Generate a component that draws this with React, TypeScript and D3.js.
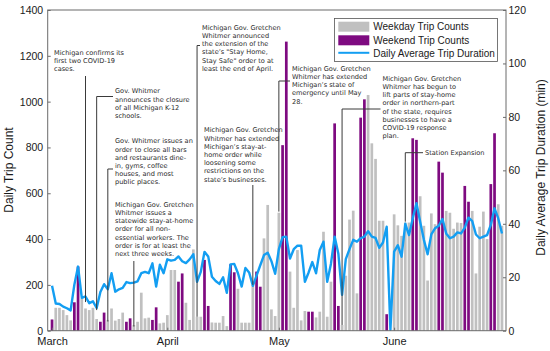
import React, { useEffect, useRef } from 'react';
import * as d3 from 'd3';

// daily trip counts, 1 Mar - 30 Jun 2020
const marchCounts = [49, 100, 100, 90, 68, 45, 124, 280, 141, 97, 90, 100, 51, 39, 79, 47, 97, 44, 51, 79, 39, 54, 25, 39, 166, 54, 57, 47, 102, 32, 35];
const aprilCounts = [68, 265, 265, 214, 250, 122, 47, 355, 61, 61, 309, 108, 36, 35, 35, 64, 20, 290, 255, 183, 35, 35, 35, 200, 258, 192, 403, 549, 93, 64];
const mayCounts = [515, 810, 1262, 258, 100, 352, 45, 86, 83, 83, 58, 83, 432, 61, 214, 905, 108, 25, 240, 485, 524, 163, 930, 1010, 1029, 818, 750, 480, 480, 72, 0];
const juneCounts = [508, 460, 414, 472, 472, 840, 833, 587, 458, 219, 512, 465, 738, 690, 523, 515, 445, 472, 470, 632, 563, 523, 250, 454, 520, 400, 640, 862, 552, 458];

// daily average trip duration (min)
const marchDurations = [16.8, 10.2, 10, 9, 8.4, 7.6, 17.2, 24, 12.3, 12.8, 10.3, 11, 8.5, 14.5, 17.4, 15.5, 21.5, 14.6, 15.5, 16, 18.2, 17.8, 18, 18.5, 21.5, 22, 21.5, 25.2, 16.5, 24.7, 21.5];
const aprilDurations = [26.7, 26.2, 26.5, 27.8, 26, 25.3, 26.7, 28.6, 18.3, 22, 29.5, 27.8, 20.2, 18.6, 17.5, 20, 14.2, 24.8, 25, 21.5, 16.5, 23.5, 21.8, 16.8, 20.6, 24.5, 28.3, 29.2, 26, 21.3];
const mayDurations = [30.5, 35, 35.2, 27, 30.5, 31.8, 31.8, 18.3, 21.8, 25.7, 21.5, 30.2, 33.3, 18.3, 25, 35.2, 28.8, 13.4, 26.8, 30.5, 34, 33.3, 34.6, 35.2, 37.2, 35.2, 34.7, 31, 33, 38.9, 0.3];
const juneDurations = [29.6, 32, 27.7, 40, 35.8, 42, 47.7, 40.8, 34, 28.6, 36, 38.3, 39.3, 41.8, 36.4, 34.6, 35.2, 36.8, 36.4, 38.6, 42.3, 41, 36, 34.6, 35.2, 35.8, 39.6, 45.8, 42, 36.4];

const monthTicks = ['2020-03-01', '2020-04-01', '2020-05-01', '2020-06-01'];
const countTicks = [0, 200, 400, 600, 800, 1000, 1200, 1400];
const durationTicks = [0, 20, 40, 60, 80, 100, 120];
const legendLabels = ['Weekday Trip Counts', 'Weekend Trip Counts', 'Daily Average Trip Duration'];

// event notes: date and the count level where the leader stops
const noteDates = ['2020-03-10', '2020-03-13', '2020-03-16', '2020-03-23', '2020-04-09', '2020-04-24', '2020-05-01', '2020-05-18', '2020-06-04'];
const noteEnds = [125, 90, 40, 18, 61, 200, 520, 25, 476];
const noteTexts = [
  ['Michigan confirms its', 'first two COVID-19', 'cases.'],
  ['Gov. Whitmer', 'announces the closure', 'of all Michigan K-12', 'schools.'],
  ['Gov. Whitmer issues an', 'order to close all bars', 'and restaurants dine-', 'in, gyms, coffee', 'houses, and most', 'public places.'],
  ['Michigan Gov. Gretchen', 'Whitmer issues a', 'statewide stay-at-home', 'order for all non-', 'essential workers. The', 'order is for at least the', 'next three weeks.'],
  ['Michigan Gov. Gretchen', 'Whitmer announced', 'the extension of the', 'state\u2019s "Stay Home,', 'Stay Safe" order to at', 'least the end of April.'],
  ['Michigan Gov. Gretchen', 'Whitmer has extended', 'Michigan\u2019s stay-at-', 'home order while', 'loosening some', 'restrictions on the', 'state\u2019s businesses.'],
  ['Michigan Gov. Gretchen', 'Whitmer has extended', 'Michigan\u2019s state of', 'emergency until May', '28.'],
  ['Michigan Gov. Gretchen', 'Whitmer has begun to', 'lift parts of stay-home', 'order in northern-part', 'of the state, requires', 'businesses to have a', 'COVID-19 response', 'plan.'],
  ['Station Expansion'],
];

// where each note's text block sits (px) and whether the leader has a hook
const noteLayout = [
  { tx: 54, ty: 52.5, top: 76, hook: false },
  { tx: 115, ty: 91, top: 96.5, hook: true },
  { tx: 115, ty: 141, top: 169, hook: true },
  { tx: 115, ty: 204.5, top: 261, hook: false },
  { tx: 202, ty: 27.5, top: 45.5, hook: true },
  { tx: 204, ty: 130, top: 185, hook: false },
  { tx: 292, ty: 68.5, top: 81, hook: true },
  { tx: 382.5, ty: 78.5, top: 109, hook: true },
  { tx: 425, ty: 152.7, top: 152.7, hook: true },
];

const GRAY = '#c0c0c0';
const PURPLE = '#7e0a80';
const BLUE = '#139ef2';
const ARIAL = '"Liberation Sans", Arial, sans-serif';
const NOTE_FONT = '"DejaVu Sans", Verdana, sans-serif';

const App = () => {
  const svgRef = useRef<SVGSVGElement>(null);
  const width = 550;
  const height = 351;

  useEffect(() => {
    const svg = d3.select(svgRef.current);
    svg.selectAll('*').remove();

    const counts = [...marchCounts, ...aprilCounts, ...mayCounts, ...juneCounts];
    const durations = [...marchDurations, ...aprilDurations, ...mayDurations, ...juneDurations];
    const start = Date.UTC(2020, 2, 1);
    const DAY = 864e5;
    const days = counts.map((c, i) => ({
      date: new Date(start + i * DAY),
      count: c,
      dur: durations[i],
    }));
    const parse = (s: string) => new Date(s + 'T00:00:00Z');

    const plot = { left: 47.7, right: 506, top: 10, bottom: 330.7 };

    const x = d3.scaleUtc()
      .domain([new Date(start - 28 * 36e5), new Date(Date.UTC(2020, 6, 1, 2))])
      .range([plot.left, plot.right]);
    const yL = d3.scaleLinear().domain([0, 1400]).range([plot.bottom, plot.top]);
    const yR = d3.scaleLinear().domain([0, 120]).range([plot.bottom, plot.top]);

    const barW = 2.7;

    // bars
    svg.append('g')
      .selectAll('rect')
      .data(days)
      .enter()
      .append('rect')
      .attr('x', d => x(d.date) - barW / 2)
      .attr('width', barW)
      .attr('y', d => yL(d.count))
      .attr('height', d => yL(0) - yL(d.count))
      .attr('fill', d => {
        const wd = d.date.getUTCDay();
        return wd === 0 || wd === 6 ? PURPLE : GRAY;
      });

    // duration line
    const line = d3.line<typeof days[0]>()
      .x(d => x(d.date))
      .y(d => yR(d.dur));
    svg.append('path')
      .datum(days)
      .attr('fill', 'none')
      .attr('stroke', BLUE)
      .attr('stroke-width', 2.4)
      .attr('stroke-linejoin', 'round')
      .attr('d', line);

    // box
    svg.append('rect')
      .attr('x', plot.left)
      .attr('y', plot.top)
      .attr('width', plot.right - plot.left)
      .attr('height', plot.bottom - plot.top)
      .attr('fill', 'none')
      .attr('stroke', '#6b6b6b')
      .attr('stroke-width', 1);

    // axes
    const styleAxis = (g: any, size: string) => {
      g.select('.domain').remove();
      g.selectAll('.tick line').attr('stroke', '#6b6b6b');
      g.selectAll('.tick text')
        .attr('fill', '#1a1a1a')
        .style('font-family', ARIAL)
        .style('font-size', size);
    };

    svg.append('g')
      .attr('transform', `translate(${plot.left},0)`)
      .call(d3.axisLeft(yL).tickValues(countTicks).tickFormat(d3.format('d'))
        .tickSizeInner(-3).tickSizeOuter(0).tickPadding(4.5))
      .call(g => styleAxis(g, '10.5px'));

    svg.append('g')
      .attr('transform', `translate(${plot.right},0)`)
      .call(d3.axisRight(yR).tickValues(durationTicks).tickFormat(d3.format('d'))
        .tickSizeInner(-3).tickSizeOuter(0).tickPadding(2.5))
      .call(g => styleAxis(g, '10.5px'));

    svg.append('g')
      .attr('transform', `translate(0,${plot.bottom})`)
      .call(d3.axisBottom(x)
        .tickValues(monthTicks.map(parse))
        .tickFormat(d => d3.utcFormat('%B')(d as Date))
        .tickSizeInner(-3).tickSizeOuter(0).tickPadding(7))
      .call(g => styleAxis(g, '11px'));

    // axis titles
    svg.append('text')
      .attr('transform', 'translate(12.7,170) rotate(-90)')
      .attr('text-anchor', 'middle')
      .style('font-family', ARIAL)
      .style('font-size', '12px')
      .attr('fill', '#1a1a1a')
      .text('Daily Trip Count');

    svg.append('text')
      .attr('transform', 'translate(545,167.5) rotate(-90)')
      .attr('text-anchor', 'middle')
      .style('font-family', ARIAL)
      .style('font-size', '12px')
      .attr('fill', '#1a1a1a')
      .text('Daily Average Trip Duration (min)');

    // notes
    const notes = svg.append('g');
    const lh = 8.2;
    noteDates.forEach((ds, i) => {
      const lay = noteLayout[i];
      const nx = x(parse(ds));
      notes.append('line')
        .attr('x1', nx).attr('x2', nx)
        .attr('y1', lay.top).attr('y2', yL(noteEnds[i]))
        .attr('stroke', '#3a3a3a')
        .attr('stroke-width', 1);
      if (lay.hook) {
        notes.append('line')
          .attr('x1', nx).attr('x2', lay.tx - 2)
          .attr('y1', lay.top).attr('y2', lay.top)
          .attr('stroke', '#3a3a3a')
          .attr('stroke-width', 1);
      }
      const t = notes.append('text')
        .attr('x', lay.tx)
        .attr('y', lay.ty)
        .style('font-family', NOTE_FONT)
        .style('font-size', '6.6px')
        .attr('fill', '#2b2b2b');
      noteTexts[i].forEach((s, j) => {
        t.append('tspan')
          .attr('x', lay.tx)
          .attr('y', lay.ty + j * lh)
          .attr('dy', '0.35em')
          .text(s);
      });
    });

    // legend
    const lg = svg.append('g');
    lg.append('rect')
      .attr('x', 334.5).attr('y', 18.5)
      .attr('width', 163).attr('height', 43)
      .attr('fill', '#fff')
      .attr('stroke', '#555')
      .attr('stroke-width', 0.8);
    const rows = [26.7, 40.3, 53.3];
    lg.append('rect').attr('x', 338.3).attr('y', rows[0] - 5).attr('width', 31).attr('height', 10).attr('fill', GRAY);
    lg.append('rect').attr('x', 338.3).attr('y', rows[1] - 5).attr('width', 31).attr('height', 10).attr('fill', PURPLE);
    lg.append('line')
      .attr('x1', 338.3).attr('x2', 369.3)
      .attr('y1', rows[2] - 0.5).attr('y2', rows[2] - 0.5)
      .attr('stroke', BLUE).attr('stroke-width', 2);
    legendLabels.forEach((s, i) => {
      lg.append('text')
        .attr('x', 373.3)
        .attr('y', rows[i])
        .attr('dy', '0.35em')
        .style('font-family', ARIAL)
        .style('font-size', '10px')
        .attr('fill', '#1a1a1a')
        .text(s);
    });
  }, []);

  return (
    <div style={{ width, height }}>
      <style>{'body{margin:0}'}</style>
      <svg ref={svgRef} width={width} height={height} style={{ display: 'block', background: '#fff' }} />
    </div>
  );
};

export default App;
